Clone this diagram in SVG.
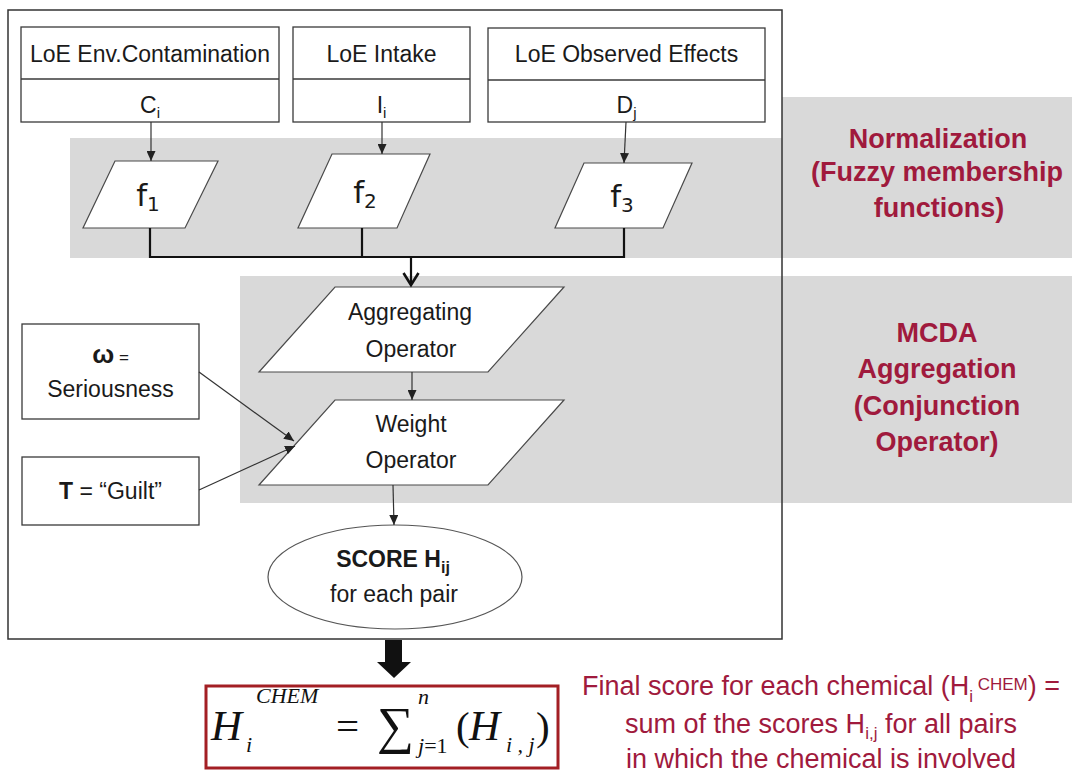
<svg xmlns="http://www.w3.org/2000/svg" width="1072" height="776" viewBox="0 0 1072 776">
  <defs>
    <marker id="tri" markerUnits="userSpaceOnUse" markerWidth="10" markerHeight="9" refX="10" refY="4.5" orient="auto">
      <path d="M0,0 L10,4.5 L0,9 Z" fill="#222"/>
    </marker>
    <marker id="chev" markerUnits="userSpaceOnUse" markerWidth="16" markerHeight="18" refX="13" refY="9" orient="auto">
      <path d="M1,1.5 L13,9 L1,16.5" fill="none" stroke="#111" stroke-width="2.6"/>
    </marker>
  </defs>
  <style>
    .band{fill:#d9d9d9}
    .box{fill:#fff;stroke:#3a3a3a;stroke-width:1.3}
    .shape{fill:#fff;stroke:#4a4a4a;stroke-width:1.2}
    .t{font-family:"Liberation Sans",Arial,sans-serif;font-size:23px;fill:#1a1a1a;text-anchor:middle}
    .b{font-weight:bold}
    .f{font-family:"DejaVu Sans",Verdana,sans-serif;font-size:31px;fill:#1a1a1a;text-anchor:middle}
    .red{font-family:"Liberation Sans",Arial,sans-serif;fill:#a01a3d;text-anchor:middle}
    .lbl{font-size:27px;font-weight:bold}
    .note{font-size:27px}
    .math{font-family:"Liberation Serif","Times New Roman",serif;fill:#111;font-style:italic}
    .up{font-style:normal}
    .thin{stroke:#333;stroke-width:1.2;fill:none}
    .thick{stroke:#111;stroke-width:2.2;fill:none}
  </style>

  <!-- shaded stage bands -->
  <g id="bands">
    <path class="band" d="M70,138 H782 V97 H1072 V258 H70 Z"/>
    <rect class="band" x="240" y="276" width="832" height="227"/>
  </g>

  <!-- outer frame -->
  <rect x="8" y="10" width="774" height="629" fill="none" stroke="#333" stroke-width="1.5"/>

  <g id="loe-contamination">
    <rect class="box" x="21" y="27" width="258" height="95"/>
    <line x1="21" y1="79" x2="279" y2="79" stroke="#3a3a3a" stroke-width="1.3"/>
    <text class="t" x="150" y="62">LoE Env.Contamination</text>
    <text class="t" x="150" y="113">C<tspan font-size="15" dy="5">i</tspan></text>
  </g>

  <g id="loe-intake">
    <rect class="box" x="293" y="27" width="177" height="95"/>
    <line x1="293" y1="79" x2="470" y2="79" stroke="#3a3a3a" stroke-width="1.3"/>
    <text class="t" x="381.5" y="62">LoE Intake</text>
    <text class="t" x="381.5" y="113">I<tspan font-size="15" dy="5">i</tspan></text>
  </g>

  <g id="loe-effects">
    <rect class="box" x="488" y="28" width="277" height="94"/>
    <line x1="488" y1="80" x2="765" y2="80" stroke="#3a3a3a" stroke-width="1.3"/>
    <text class="t" x="626.5" y="62">LoE Observed Effects</text>
    <text class="t" x="626.5" y="113">D<tspan font-size="15" dy="5">j</tspan></text>
  </g>

  <g id="f1">
    <polygon class="shape" points="115,161 218,161 185,228 83,228"/>
    <text class="f" x="148" y="206">f<tspan font-size="20" dy="5">1</tspan></text>
  </g>

  <g id="f2">
    <polygon class="shape" points="332,154 430,154 397,228 298,228"/>
    <text class="f" x="365" y="203">f<tspan font-size="20" dy="5">2</tspan></text>
  </g>

  <g id="f3">
    <polygon class="shape" points="584,163 692,163 663,228 555,228"/>
    <text class="f" x="622" y="207">f<tspan font-size="20" dy="5">3</tspan></text>
  </g>

  <g id="aggregating-operator">
    <polygon class="shape" points="335,287 564,287 488,372 259,372"/>
    <text class="t" x="410" y="320">Aggregating</text>
    <text class="t" x="411" y="357">Operator</text>
  </g>

  <g id="weight-operator">
    <polygon class="shape" points="335,400 564,400 488,485 259,485"/>
    <text class="t" x="411" y="432">Weight</text>
    <text class="t" x="411" y="468">Operator</text>
  </g>

  <g id="seriousness">
    <rect class="box" x="22" y="324" width="177" height="95"/>
    <text class="t" x="110.5" y="363"><tspan class="b" font-size="26">ω</tspan><tspan font-size="17"> =</tspan></text>
    <text class="t" x="110.5" y="397">Seriousness</text>
  </g>

  <g id="guilt">
    <rect class="box" x="22" y="457" width="177" height="68"/>
    <text class="t" x="110.5" y="499"><tspan class="b">T</tspan> = “Guilt”</text>
  </g>

  <g id="score">
    <ellipse cx="395" cy="577" rx="127" ry="52" fill="#fff" stroke="#555" stroke-width="1.2"/>
    <text class="t b" x="393" y="567" font-size="25">SCORE H<tspan font-size="16" dy="6">ij</tspan></text>
    <text class="t" x="394" y="602">for each pair</text>
  </g>

  <!-- connectors -->
  <g id="connectors">
    <line class="thin" x1="151" y1="122" x2="151" y2="161" marker-end="url(#tri)"/>
    <line class="thin" x1="382" y1="122" x2="382" y2="154" marker-end="url(#tri)"/>
    <line class="thin" x1="626" y1="122" x2="624" y2="163" marker-end="url(#tri)"/>
    <path class="thick" d="M150,228 V257 H624 V228 M362,228 V257"/>
    <line class="thick" x1="411" y1="257" x2="411" y2="285" marker-end="url(#chev)"/>
    <line class="thin" x1="412" y1="372" x2="412" y2="400" marker-end="url(#tri)"/>
    <line class="thin" x1="393" y1="485" x2="394" y2="525" marker-end="url(#tri)"/>
    <line class="thin" x1="199" y1="372" x2="294" y2="441" marker-end="url(#tri)"/>
    <line class="thin" x1="199" y1="490" x2="295" y2="446" marker-end="url(#tri)"/>
    <polygon points="385,640 402,640 402,662 411,662 394,678 377,662 385,662" fill="#111"/>
  </g>

  <!-- stage labels -->
  <g id="normalization-label">
    <text class="red lbl" x="938" y="148">Normalization</text>
    <text class="red lbl" x="937" y="181">(Fuzzy membership</text>
    <text class="red lbl" x="939" y="217">functions)</text>
  </g>

  <g id="mcda-label">
    <text class="red lbl" x="937" y="342">MCDA</text>
    <text class="red lbl" x="937" y="378">Aggregation</text>
    <text class="red lbl" x="937" y="415">(Conjunction</text>
    <text class="red lbl" x="937" y="451">Operator)</text>
  </g>

  <!-- final score formula -->
  <g id="formula">
    <rect x="206" y="686" width="352" height="82" fill="#fff" stroke="#a31f24" stroke-width="3"/>
    <text class="math" x="211" y="740" font-size="43">H</text>
    <text class="math" x="256" y="703" font-size="22">CHEM</text>
    <text class="math" x="246" y="752" font-size="22">i</text>
    <text class="math up" x="336" y="740" font-size="41">=</text>
    <text class="math up" x="377" y="743" font-size="52">∑</text>
    <text class="math" x="418" y="704" font-size="22">n</text>
    <text class="math" x="418" y="753" font-size="22">j<tspan class="up">=1</tspan></text>
    <text class="math up" x="456" y="740" font-size="41">(</text>
    <text class="math" x="469" y="740" font-size="43">H</text>
    <text class="math" x="506" y="752" font-size="22">i , j</text>
    <text class="math up" x="536" y="740" font-size="41">)</text>
  </g>

  <g id="final-note">
    <text class="red note" x="821" y="695">Final score for each chemical (H<tspan font-size="17" dy="7">i</tspan><tspan font-size="17" dy="-12"> CHEM</tspan><tspan dy="5">) =</tspan></text>
    <text class="red note" x="821" y="733">sum of the scores H<tspan font-size="17" dy="6">i,j</tspan><tspan dy="-6"> for all pairs</tspan></text>
    <text class="red note" x="821" y="768">in which the chemical is involved</text>
  </g>
</svg>
